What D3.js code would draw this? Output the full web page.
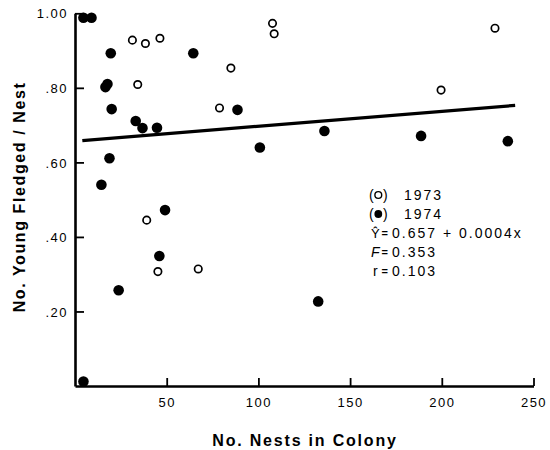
<!DOCTYPE html>
<html>
<head>
<meta charset="utf-8">
<script src="https://cdn.jsdelivr.net/npm/d3@7"></script>
<style>
  html, body { margin: 0; padding: 0; background: #fff; }
  svg { display: block; }
  text { font-family: "Liberation Sans", Arial, Helvetica, sans-serif; fill: #000; }
</style>
</head>
<body>
<svg id="chart" width="550" height="450"></svg>
<script>
// Colony size (nests) vs. young fledged per nest, two seasons
const nests1973 = [31.3, 38.4, 46.3, 34.2, 107.7, 108.6, 85.0, 78.8, 199.6, 229.0, 39.1, 45.2, 67.2];
const young1973 = [0.928, 0.919, 0.933, 0.809, 0.973, 0.945, 0.853, 0.746, 0.794, 0.960, 0.445, 0.307, 0.314];

const nests1974 = [4.6, 9.0, 19.5, 64.5, 16.6, 17.7, 20.0, 33.1, 36.8, 44.7, 88.6, 100.8, 18.8, 14.4, 49.1, 46.0, 23.8, 4.6, 136.0, 188.7, 236.0, 132.6];
const young1974 = [0.988, 0.988, 0.893, 0.893, 0.802, 0.810, 0.743, 0.711, 0.692, 0.693, 0.741, 0.640, 0.611, 0.540, 0.472, 0.349, 0.257, 0.012, 0.684, 0.671, 0.657, 0.227];

// Fitted regression: Y = a + b x, drawn over the observed colony range
const fitIntercept = 0.657;
const fitSlope = 0.0004;
const fitRange = [4, 240];

const xTickValues = [50, 100, 150, 200, 250];
const xTickLabels = ["50", "100", "150", "200", "250"];
const yTickValues = [0.2, 0.4, 0.6, 0.8, 1.0];
const yTickLabels = [".20", ".40", ".60", ".80", "1.00"];

const legendYears = ["1973", "1974"];
const statLabels = ["F", "r"];
const statValues = ["0.353", "0.103"];

const svg = d3.select("#chart");

const x = d3.scaleLinear().domain([0, 250]).range([75, 533.5]);
const y = d3.scaleLinear().domain([0, 1]).range([386, 13.3]);

// Axes with inward-pointing ticks
const xAxis = d3.axisBottom(x)
  .tickValues(xTickValues)
  .tickSizeInner(-8)
  .tickSizeOuter(0)
  .tickPadding(12)
  .tickFormat((d, i) => xTickLabels[i]);

const yAxis = d3.axisLeft(y)
  .tickValues(yTickValues)
  .tickSizeInner(-9)
  .tickSizeOuter(0)
  .tickPadding(7)
  .tickFormat((d, i) => yTickLabels[i]);

const gx = svg.append("g").attr("transform", `translate(0,${y(0)})`).call(xAxis);
const gy = svg.append("g").attr("transform", `translate(${x(0)},0)`).call(yAxis);

[gx, gy].forEach(g => {
  g.select(".domain").attr("stroke", "#000").attr("stroke-width", 2.6);
  g.selectAll(".tick line").attr("stroke", "#000").attr("stroke-width", 1.8);
  g.selectAll(".tick text")
    .attr("font-size", 13)
    .attr("letter-spacing", "1.5px")
    .style("font-family", "'Liberation Sans', Arial, sans-serif")
    .attr("fill", "#000");
});
gy.selectAll(".tick text").attr("dy", "0.36em");

// Regression line
const fitLine = d3.line()
  .x(d => x(d))
  .y(d => y(fitIntercept + fitSlope * d));
svg.append("path")
  .datum(fitRange)
  .attr("d", fitLine)
  .attr("fill", "none")
  .attr("stroke", "#000")
  .attr("stroke-width", 3.2);

// 1973: open circles
svg.append("g").selectAll("circle")
  .data(d3.range(nests1973.length))
  .join("circle")
  .attr("cx", i => x(nests1973[i]))
  .attr("cy", i => y(young1973[i]))
  .attr("r", 3.7)
  .attr("fill", "#fff")
  .attr("stroke", "#000")
  .attr("stroke-width", 1.7);

// 1974: filled circles
svg.append("g").selectAll("circle")
  .data(d3.range(nests1974.length))
  .join("circle")
  .attr("cx", i => x(nests1974[i]))
  .attr("cy", i => y(young1974[i]))
  .attr("r", 5.3)
  .attr("fill", "#000");

// Axis titles
svg.append("text")
  .attr("x", 305)
  .attr("y", 446)
  .attr("text-anchor", "middle")
  .attr("font-size", 16)
  .attr("font-weight", "bold")
  .attr("letter-spacing", "1.8px")
  .text("No. Nests in Colony");

svg.append("text")
  .attr("transform", "translate(25,197) rotate(-90)")
  .attr("text-anchor", "middle")
  .attr("font-size", 16)
  .attr("font-weight", "bold")
  .attr("letter-spacing", "1.6px")
  .text("No. Young Fledged / Nest");

// Key and fit statistics
const key = svg.append("g").attr("font-size", 14).attr("letter-spacing", "2px");
const keyRows = [200, 219];
legendYears.forEach((yr, i) => {
  const by = keyRows[i];
  key.append("text").attr("x", 369).attr("y", by).attr("letter-spacing", 0).text("(");
  key.append("text").attr("x", 383).attr("y", by).attr("letter-spacing", 0).text(")");
  key.append("circle")
    .attr("cx", 378.3).attr("cy", by - 5)
    .attr("r", i === 0 ? 3.4 : 3.9)
    .attr("fill", i === 0 ? "#fff" : "#000")
    .attr("stroke", "#000")
    .attr("stroke-width", i === 0 ? 1.4 : 0);
  key.append("text").attr("x", 404).attr("y", by).text(yr);
});

// small equals sign, set apart from its neighbours
function addEquals(t) {
  t.append("tspan").attr("x", 381.5).attr("dy", -1)
    .attr("font-size", 11).attr("font-weight", "bold").attr("letter-spacing", 0).text("=");
  return t.append("tspan").attr("x", 392).attr("dy", 1);
}

const eq = key.append("text").attr("x", 371).attr("y", 238);
eq.append("tspan").attr("font-size", 13).attr("letter-spacing", 0).text("Ŷ");
addEquals(eq).text(`${fitIntercept} + ${fitSlope}x`);

statLabels.forEach((lab, i) => {
  const by = 257 + i * 19;
  const t = key.append("text").attr("x", i === 0 ? 371 : 373).attr("y", by);
  t.append("tspan").attr("font-style", i === 0 ? "italic" : "normal").attr("letter-spacing", 0).text(lab);
  addEquals(t).text(statValues[i]);
});
</script>
</body>
</html>
